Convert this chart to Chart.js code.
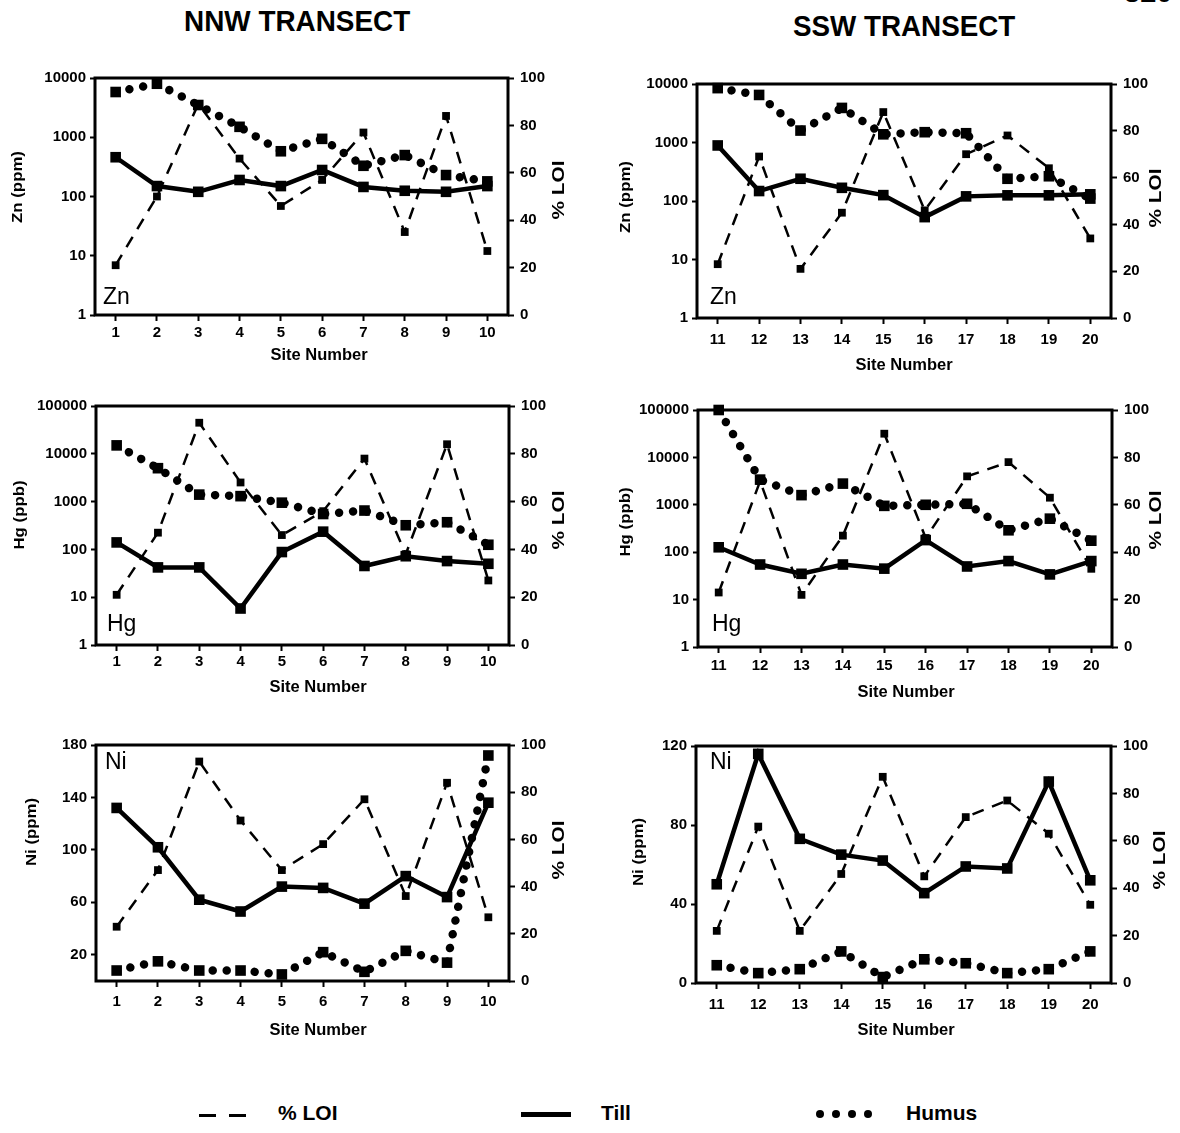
<!DOCTYPE html>
<html>
<head>
<meta charset="utf-8">
<title>Zn, Hg and Ni along the NNW and SSW transects</title>
<script src="https://cdn.jsdelivr.net/npm/chart.js@4.4.1/dist/chart.umd.min.js"></script>
<style>
  html, body { margin: 0; padding: 0; background: #fff; }
  body { position: relative; width: 1180px; height: 1133px; overflow: hidden;
         font-family: 'Liberation Sans', Arial, sans-serif; color: #000; }
  .heading { position: absolute; font-weight: bold; font-size: 30px; line-height: 30px;
             white-space: nowrap; transform-origin: 0 0; }
  .pageno { position: absolute; font-weight: bold; font-size: 29px; line-height: 29px; }
  .key { position: absolute; font-weight: bold; font-size: 21px; line-height: 21px; white-space: nowrap; }
  .dash { position: absolute; height: 3px; background: #000; }
  .solid { position: absolute; height: 5px; background: #000; }
  .dot { position: absolute; width: 8px; height: 8px; border-radius: 50%; background: #000; }
</style>
</head>
<body>
<div class="pageno" style="left:1124px;top:-22px;">320</div>
<div class="heading" style="left:184px;top:6px;transform:scaleX(0.93);">NNW TRANSECT</div>
<div class="heading" style="left:793px;top:11px;transform:scaleX(0.926);">SSW TRANSECT</div>

<!-- shared key -->
<div class="dash" style="left:199px;top:1114px;width:17px;"></div>
<div class="dash" style="left:229px;top:1114px;width:17px;"></div>
<div class="key" style="left:278px;top:1102px;">% LOI</div>
<div class="solid" style="left:521px;top:1112px;width:50px;"></div>
<div class="key" style="left:601px;top:1102px;">Till</div>
<div class="dot" style="left:816px;top:1110px;"></div>
<div class="dot" style="left:832px;top:1110px;"></div>
<div class="dot" style="left:848px;top:1110px;"></div>
<div class="dot" style="left:864px;top:1110px;"></div>
<div class="key" style="left:906px;top:1102px;">Humus</div>

<script>
// ---- categories and tick values ----
const nnwSites = ['1', '2', '3', '4', '5', '6', '7', '8', '9', '10'];
const sswSites = ['11', '12', '13', '14', '15', '16', '17', '18', '19', '20'];

const znTicks    = [1, 10, 100, 1000, 10000];
const hgTicks    = [1, 10, 100, 1000, 10000, 100000];
const niNnwTicks = [20, 60, 100, 140, 180];
const niSswTicks = [0, 40, 80, 120];
const loiTicks   = [0, 20, 40, 60, 80, 100];

// ---- NNW transect (sites 1-10) ----
const nnwZnTill  = [460, 150, 120, 190, 150, 280, 145, 125, 120, 150];
const nnwZnHumus = [5800, 8000, 3500, 1500, 580, 940, 330, 500, 230, 180];
const nnwZnLoi   = [21, 50, 89, 66, 46, 57, 77, 35, 84, 27];

const nnwHgTill  = [140, 42, 42, 5.8, 88, 235, 45, 72, 57, 50];
const nnwHgHumus = [15000, 5000, 1400, 1300, 950, 550, 650, 320, 370, 125];
const nnwHgLoi   = [21, 47, 93, 68, 46, 56, 78, 38, 84, 27];

const nnwNiTill  = [132, 102, 62, 53, 72, 71, 59, 80, 64, 136];
const nnwNiHumus = [8, 15, 8, 8, 5, 22, 7, 23, 14, 172];
const nnwNiLoi   = [23, 47, 93, 68, 47, 58, 77, 36, 84, 27];

// ---- SSW transect (sites 11-20) ----
const sswZnTill  = [890, 148, 240, 168, 126, 53, 120, 125, 125, 130];
const sswZnHumus = [8500, 6500, 1600, 3900, 1380, 1500, 1440, 240, 265, 110];
const sswZnLoi   = [23, 69, 21, 45, 88, 46, 70, 78, 64, 34];

const sswHgTill  = [127, 55, 35, 55, 45, 180, 50, 65, 34, 65];
const sswHgHumus = [100000, 3400, 1600, 2800, 950, 1000, 1050, 290, 510, 175];
const sswHgLoi   = [23, 70, 22, 47, 90, 46, 72, 78, 63, 33];

const sswNiTill  = [50, 116, 73, 65, 62, 45.5, 59, 58, 102, 52];
const sswNiHumus = [9, 5, 7, 16, 3, 12, 10, 5, 7, 16];
const sswNiLoi   = [22, 66, 22, 46, 87, 45, 70, 77, 63, 33];

// ---- styling ----
const FAMILY = "'Liberation Sans', Arial, sans-serif";
const TICK_SIZE = 15;
const tickFont = { family: FAMILY, size: TICK_SIZE, weight: 'bold' };

const loiStyle = {
  label: '% LOI', yAxisID: 'y1', borderColor: '#000', backgroundColor: '#000',
  borderWidth: 2.5, borderDash: [12, 9], pointStyle: 'rect', pointRadius: 5.5,
  pointBackgroundColor: '#000', pointBorderWidth: 0, clip: 12
};
const tillStyle = {
  label: 'Till', yAxisID: 'y', borderColor: '#000', backgroundColor: '#000',
  borderWidth: 4.5, pointStyle: 'rect', pointRadius: 7.5,
  pointBackgroundColor: '#000', pointBorderWidth: 0, clip: 12
};
const humusStyle = {
  label: 'Humus', yAxisID: 'y', borderColor: '#000', backgroundColor: '#000',
  borderWidth: 8.5, borderDash: [0.01, 14], borderCapStyle: 'round',
  pointStyle: 'rect', pointRadius: 7.5,
  pointBackgroundColor: '#000', pointBorderWidth: 0, clip: 12
};

// Panel layout: canvas box [x, y, w, h] and plot frame [left, right, top, bottom], page pixels.
const PANELS = [
  { labels: nnwSites, till: nnwZnTill, humus: nnwZnHumus, loi: nnwZnLoi,
    type: 'logarithmic', min: 1, max: 10000, ticks: znTicks, yTitle: 'Zn (ppm)', tag: 'Zn',
    box: [0, 58, 580, 320], area: [95, 508, 78, 315], xTickOff: 18,
    yTitleAt: [18, 187], y1TitleAt: [560, 190], xTitleAt: [319, 355], tagAt: [103, 298] },
  { labels: sswSites, till: sswZnTill, humus: sswZnHumus, loi: sswZnLoi,
    type: 'logarithmic', min: 1, max: 10000, ticks: znTicks, yTitle: 'Zn (ppm)', tag: 'Zn',
    box: [590, 64, 590, 320], area: [697, 1111, 84, 318], xTickOff: 22,
    yTitleAt: [626, 197], y1TitleAt: [1157, 198], xTitleAt: [904, 365], tagAt: [710, 298] },
  { labels: nnwSites, till: nnwHgTill, humus: nnwHgHumus, loi: nnwHgLoi,
    type: 'logarithmic', min: 1, max: 100000, ticks: hgTicks, yTitle: 'Hg (ppb)', tag: 'Hg',
    box: [0, 386, 580, 320], area: [96, 509, 406, 645], xTickOff: 17,
    yTitleAt: [20, 515], y1TitleAt: [560, 520], xTitleAt: [318, 687], tagAt: [107, 625] },
  { labels: sswSites, till: sswHgTill, humus: sswHgHumus, loi: sswHgLoi,
    type: 'logarithmic', min: 1, max: 100000, ticks: hgTicks, yTitle: 'Hg (ppb)', tag: 'Hg',
    box: [590, 390, 590, 320], area: [698, 1112, 410, 647], xTickOff: 19,
    yTitleAt: [626, 522], y1TitleAt: [1157, 520], xTitleAt: [906, 692], tagAt: [712, 625] },
  { labels: nnwSites, till: nnwNiTill, humus: nnwNiHumus, loi: nnwNiLoi,
    type: 'linear', min: 0, max: 180, ticks: niNnwTicks, yTitle: 'Ni (ppm)', tag: 'Ni',
    box: [0, 725, 580, 320], area: [96, 509, 745, 981], xTickOff: 21,
    yTitleAt: [32, 832], y1TitleAt: [560, 850], xTitleAt: [318, 1030], tagAt: [105, 763] },
  { labels: sswSites, till: sswNiTill, humus: sswNiHumus, loi: sswNiLoi,
    type: 'linear', min: 0, max: 120, ticks: niSswTicks, yTitle: 'Ni (ppm)', tag: 'Ni',
    box: [590, 726, 590, 320], area: [696, 1111, 746, 983], xTickOff: 22,
    yTitleAt: [639, 852], y1TitleAt: [1161, 860], xTitleAt: [906, 1030], tagAt: [710, 763] }
];

// Frame around the plot area, element tag and axis captions.
const panelDecor = {
  id: 'panelDecor',
  beforeDatasetsDraw(chart) {
    const { ctx, chartArea: a } = chart;
    ctx.save();
    ctx.strokeStyle = '#000';
    ctx.lineWidth = 3;
    ctx.strokeRect(a.left, a.top, a.right - a.left, a.bottom - a.top);
    ctx.restore();
  },
  afterDraw(chart, args, o) {
    const ctx = chart.ctx;
    const [bx, by] = o.box;
    const rotated = (text, at, font, stretch) => {
      ctx.save();
      ctx.translate(at[0] - bx, at[1] - by);
      ctx.rotate(-Math.PI / 2);
      ctx.scale(stretch, 1);
      ctx.font = font;
      ctx.fillStyle = '#000';
      ctx.textAlign = 'center';
      ctx.textBaseline = 'middle';
      ctx.fillText(text, 0, 0);
      ctx.restore();
    };
    rotated(o.yTitle, o.yTitleAt, `bold 14px ${FAMILY}`, 1.2);
    rotated('% LOI', o.y1TitleAt, `bold 16px ${FAMILY}`, 1.3);

    ctx.save();
    ctx.fillStyle = '#000';
    ctx.textBaseline = 'middle';
    ctx.textAlign = 'center';
    ctx.font = `bold 16.5px ${FAMILY}`;
    ctx.fillText('Site Number', o.xTitleAt[0] - bx, o.xTitleAt[1] - by);
    ctx.textAlign = 'left';
    ctx.font = `23px ${FAMILY}`;
    ctx.fillText(o.tag, o.tagAt[0] - bx, o.tagAt[1] - by);
    ctx.restore();
  }
};

const gridTicks = (len) => ({
  display: true, drawOnChartArea: false, drawTicks: true,
  tickLength: len, tickWidth: 2, tickColor: '#000', color: '#000', offset: false
});

PANELS.forEach(p => {
  const [bx, by, bw, bh] = p.box;
  const [L, R, T, B] = p.area;
  const cv = document.createElement('canvas');
  cv.width = bw; cv.height = bh;
  cv.style.cssText = `position:absolute;left:${bx}px;top:${by}px;width:${bw}px;height:${bh}px;`;
  document.body.appendChild(cv);

  new Chart(cv, {
    type: 'line',
    data: {
      labels: p.labels,
      datasets: [
        { ...loiStyle, data: p.loi },
        { ...tillStyle, data: p.till },
        { ...humusStyle, data: p.humus }
      ]
    },
    options: {
      responsive: false,
      animation: false,
      events: [],
      layout: { padding: { top: T - by, left: 0, right: 0, bottom: 0 } },
      plugins: {
        legend: { display: false },
        tooltip: { enabled: false },
        panelDecor: { box: p.box, yTitle: p.yTitle, tag: p.tag, yTitleAt: p.yTitleAt,
                      y1TitleAt: p.y1TitleAt, xTitleAt: p.xTitleAt, tagAt: p.tagAt }
      },
      scales: {
        x: {
          type: 'category', offset: true,
          grid: gridTicks(6), border: { display: false },
          ticks: { font: tickFont, color: '#000', padding: p.xTickOff - 6 - TICK_SIZE * 0.6,
                   maxRotation: 0, autoSkip: false },
          afterFit: s => { s.height = by + bh - B; }
        },
        y: {
          type: p.type, position: 'left', min: p.min, max: p.max,
          grid: gridTicks(5), border: { display: false },
          afterBuildTicks: s => { s.ticks = p.ticks.map(v => ({ value: v })); },
          ticks: { font: tickFont, color: '#000', padding: 4, autoSkip: false,
                   callback: v => String(v) },
          afterFit: s => { s.width = L - bx; }
        },
        y1: {
          type: 'linear', position: 'right', min: 0, max: 100,
          grid: gridTicks(6), border: { display: false },
          afterBuildTicks: s => { s.ticks = loiTicks.map(v => ({ value: v })); },
          ticks: { font: tickFont, color: '#000', padding: 6, autoSkip: false,
                   callback: v => String(v) },
          afterFit: s => { s.width = bx + bw - R; }
        }
      }
    },
    plugins: [panelDecor]
  });
});
</script>
</body>
</html>
